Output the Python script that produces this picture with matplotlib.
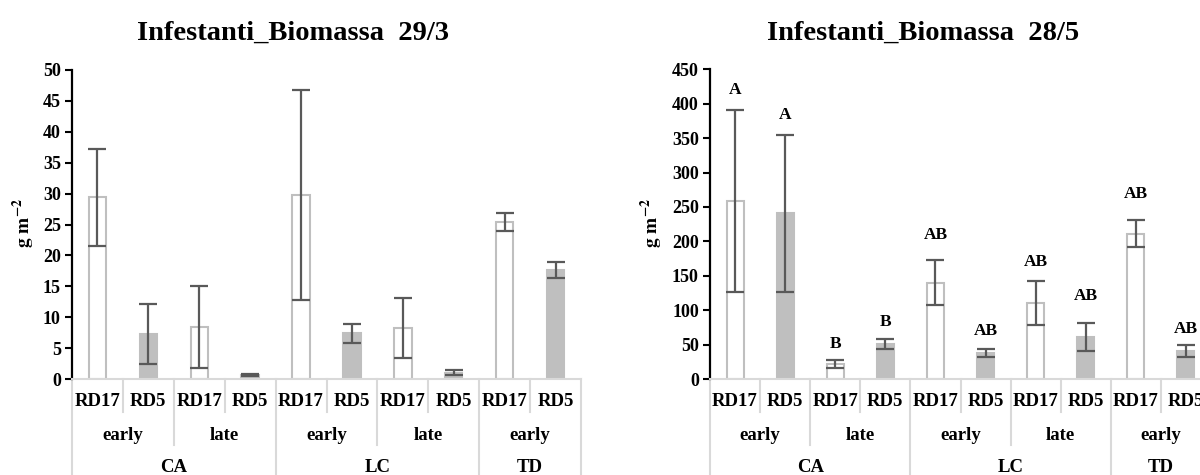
import matplotlib
matplotlib.use("Agg")
import matplotlib.pyplot as plt
import numpy as np

plt.rcParams['font.family'] = ['Liberation Serif', 'DejaVu Serif']
plt.rcParams['font.weight'] = 'bold'
plt.rcParams['mathtext.fontset'] = 'stix'

# ---- data ----
cultivars = ['RD17', 'RD5', 'RD17', 'RD5', 'RD17', 'RD5', 'RD17', 'RD5', 'RD17', 'RD5']
timings = ['early', 'late', 'early', 'late', 'early']
systems = ['CA', 'LC', 'TD']
system_sizes = [4, 4, 2]

mar_values = [29.4, 7.3, 8.4, 0.7, 29.8, 7.4, 8.2, 1.0, 25.4, 17.7]
mar_errors = [7.85, 4.85, 6.65, 0.15, 17.0, 1.5, 4.85, 0.4, 1.5, 1.3]

may_values = [259, 241, 21.5, 51, 140, 38, 110, 61, 211, 41]
may_errors = [132, 114, 6.0, 7.0, 33, 6.0, 32, 20.5, 19.5, 9.0]
may_letters = ['A', 'A', 'B', 'B', 'AB', 'AB', 'AB', 'AB', 'AB', 'AB']

titles = ['Infestanti_Biomassa  29/3', 'Infestanti_Biomassa  28/5']
ylabel = r'$\mathbf{g\ m^{-2}}$'

# ---- styles ----
W, H = 1200, 475
GRAY = '#bfbfbf'
SEP = '#d9d9d9'
ERR = '#595959'
letter_offsets_px = [11, 10, 7, 8, 16, 8, 10, 18, 17, 6]

fig = plt.figure(figsize=(12, 4.75), dpi=100)


def make_panel(left_px, width_px, top_px, ymax, ystep, values, errors, title, title_x, ylab_x,
               letters=None):
    bottom_px = 379
    ax = fig.add_axes([left_px / W, (H - bottom_px) / H, width_px / W, (bottom_px - top_px) / H])
    x = np.arange(len(values))
    faces = ['white' if c == 'RD17' else GRAY for c in cultivars]
    ax.bar(x, values, width=0.34, color=faces, edgecolor=GRAY, linewidth=1.5, zorder=2)
    ax.errorbar(x, values, yerr=errors, fmt='none', ecolor=ERR, elinewidth=1.6,
                capsize=6.5, capthick=1.6, zorder=3)
    ax.set_xlim(-0.5, len(values) - 0.5)
    ax.set_ylim(0, ymax)
    ax.set_yticks(np.arange(0, ymax + ystep / 2, ystep))
    ax.tick_params(axis='y', direction='out', length=5, width=1.5, labelsize=13, pad=3)
    ax.set_xticks([])
    for s in ['top', 'right']:
        ax.spines[s].set_visible(False)
    ax.spines['left'].set_linewidth(1.6)
    ax.spines['bottom'].set_color(SEP)
    ax.spines['bottom'].set_linewidth(1.5)
    for lab in ax.get_yticklabels():
        lab.set_fontweight('bold')

    ax_h = bottom_px - top_px
    tr = ax.get_xaxis_transform()

    def yf(px):
        return -px / ax_h

    n = len(values)
    # row 1: cultivar labels
    for i, c in enumerate(cultivars):
        ax.text(i, yf(23), c, transform=tr, ha='center', va='center', fontsize=13.5,
                fontweight='bold', clip_on=False)
    # row 2: timing labels
    for g, t in enumerate(timings):
        ax.text(2 * g + 0.5, yf(56), t, transform=tr, ha='center', va='center', fontsize=13.5,
                fontweight='bold', clip_on=False)
    # row 3: system labels
    start = 0
    sys_bounds = [0]
    for s, size in zip(systems, system_sizes):
        ax.text(start + (size - 1) / 2, yf(88), s, transform=tr, ha='center', va='center',
                fontsize=13.5, fontweight='bold', clip_on=False)
        start += size
        sys_bounds.append(start)
    # separators
    for b in range(n + 1):
        if b in sys_bounds:
            depth = 110
        elif b % 2 == 0:
            depth = 66
        else:
            depth = 33
        ax.plot([b - 0.5, b - 0.5], [0, yf(depth)], transform=tr, color=SEP, lw=1.5,
                clip_on=False, zorder=1)

    if letters is not None:
        for i, (v, e, l) in enumerate(zip(values, errors, letters)):
            ax.annotate(l, xy=(i, v + e), xytext=(0, letter_offsets_px[i] * 0.72 + 1),
                        textcoords='offset points', ha='center', va='bottom', fontsize=12.5,
                        fontweight='bold')

    fig.text(title_x / W, 1 - 40 / H, title, ha='center', va='baseline', fontsize=20.5,
             fontweight='bold')
    fig.text(ylab_x / W, 1 - 223 / H, ylabel, ha='center', va='center', rotation=90,
             fontsize=14)
    return ax


make_panel(72, 509, 70, 50, 5, mar_values, mar_errors, titles[0], 293, 24)
make_panel(710, 501, 69.3, 450, 50, may_values, may_errors, titles[1], 923, 652,
           letters=may_letters)

fig.savefig('out.png', dpi=100)
